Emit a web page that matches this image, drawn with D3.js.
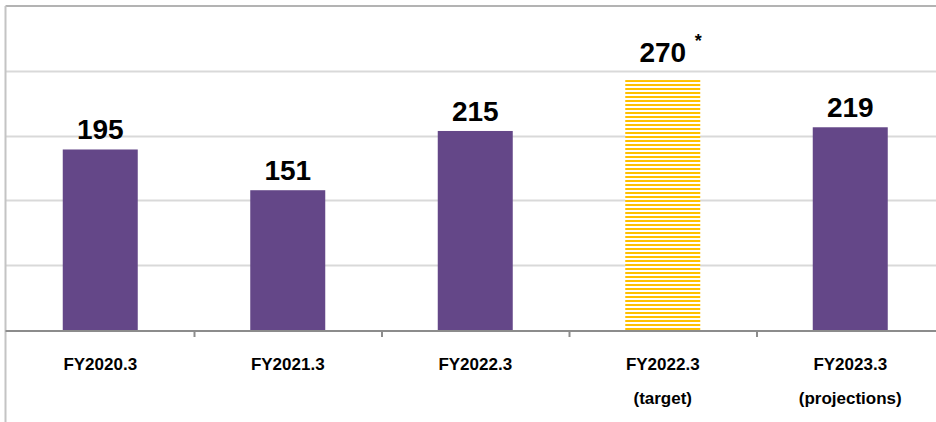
<!DOCTYPE html>
<html>
<head>
<meta charset="utf-8">
<script src="https://cdn.jsdelivr.net/npm/d3@7"></script>
<style>
  html, body { margin: 0; padding: 0; background: #ffffff; }
  svg { display: block; }
  text { font-family: "Liberation Sans", Arial, sans-serif; font-weight: bold; fill: #000; }
</style>
</head>
<body>
<svg id="chart" width="936" height="422"></svg>
<script>
// Fiscal-year categories (second line is optional)
const categories = ["FY2020.3", "FY2021.3", "FY2022.3", "FY2022.3", "FY2023.3"];
const subLabels  = ["", "", "", "(target)", "(projections)"];
// Values per category
const values     = [195, 151, 215, 270, 219];
// Which bars are targets (drawn with striped fill) and carry a note mark
const isTarget   = [false, false, false, true, false];
const notes      = ["", "", "", "*", ""];
// Horizontal gridline values
const gridTicks  = [70, 140, 210, 280];

const svg = d3.select("#chart");
const W = 936, H = 422;
const plot = { left: 5.5, top: 6, right: 944, bottom: 330 };

const x = d3.scaleBand()
  .domain(d3.range(categories.length))
  .range([plot.left + 1, plot.left + 1 + 187.5 * categories.length])
  .paddingInner(0)
  .paddingOuter(0);

const y = d3.scaleLinear().domain([0, 350]).range([plot.bottom, plot.top]);

// Striped fill for target bars
const defs = svg.append("defs");
const pat = defs.append("pattern")
  .attr("id", "stripes")
  .attr("patternUnits", "userSpaceOnUse")
  .attr("width", 4).attr("height", 4);
pat.append("rect").attr("width", 4).attr("height", 4).attr("fill", "#ffffff");
pat.append("rect").attr("width", 4).attr("height", 2).attr("fill", "#FFC000");

// Gridlines
svg.append("g")
  .selectAll("line")
  .data(gridTicks)
  .join("line")
  .attr("x1", plot.left).attr("x2", W)
  .attr("y1", d => Math.round(y(d)) + 0.5)
  .attr("y2", d => Math.round(y(d)) + 0.5)
  .attr("stroke", "#d9d9d9")
  .attr("stroke-width", 2);

// Outer frame (top and left edges)
svg.append("line")
  .attr("x1", plot.left).attr("x2", W)
  .attr("y1", plot.top).attr("y2", plot.top)
  .attr("stroke", "#b3b3b3").attr("stroke-width", 2);
svg.append("line")
  .attr("x1", plot.left).attr("x2", plot.left)
  .attr("y1", plot.top).attr("y2", H)
  .attr("stroke", "#c4c4c4").attr("stroke-width", 2);

// Bars
const barW = x.bandwidth() * 0.4;
svg.append("g")
  .selectAll("rect")
  .data(values)
  .join("rect")
  .attr("x", (d, i) => x(i) + (x.bandwidth() - barW) / 2)
  .attr("width", barW)
  .attr("y", d => y(d))
  .attr("height", d => y(0) - y(d))
  .attr("fill", (d, i) => isTarget[i] ? "url(#stripes)" : "#644788");

// Category axis
const xAxis = d3.axisBottom(x)
  .tickSize(0)
  .tickFormat("");
const gx = svg.append("g")
  .attr("transform", `translate(0,${plot.bottom + 1})`)
  .call(xAxis);
gx.select(".domain").remove();
gx.append("line")
  .attr("x1", plot.left).attr("x2", W)
  .attr("stroke", "#8c8c8c").attr("stroke-width", 2);
// Separator ticks between categories
gx.selectAll(".sep")
  .data(d3.range(1, categories.length))
  .join("line")
  .attr("class", "sep")
  .attr("x1", i => x(i) + 0.5).attr("x2", i => x(i) + 0.5)
  .attr("y1", 0).attr("y2", 6)
  .attr("stroke", "#8c8c8c").attr("stroke-width", 2);

// Category labels
const lbl = svg.append("g");
lbl.selectAll(".cat")
  .data(categories)
  .join("text")
  .attr("class", "cat")
  .attr("x", (d, i) => x(i) + x.bandwidth() / 2)
  .attr("y", 370)
  .attr("text-anchor", "middle")
  .attr("font-size", 17)
  .text(d => d);
lbl.selectAll(".sub")
  .data(subLabels)
  .join("text")
  .attr("class", "sub")
  .attr("x", (d, i) => x(i) + x.bandwidth() / 2)
  .attr("y", 404)
  .attr("text-anchor", "middle")
  .attr("font-size", 17)
  .text(d => d);

// Value labels
const vl = svg.append("g");
vl.selectAll(".val")
  .data(values)
  .join("text")
  .attr("class", "val")
  .attr("x", (d, i) => x(i) + x.bandwidth() / 2)
  .attr("y", (d, i) => y(d) - (isTarget[i] ? 18 : 10))
  .attr("text-anchor", "middle")
  .attr("font-size", 28)
  .text(d => d);
vl.selectAll(".note")
  .data(values)
  .join("text")
  .attr("class", "note")
  .attr("x", (d, i) => x(i) + x.bandwidth() / 2 + 32)
  .attr("y", (d, i) => y(d) - 33)
  .attr("text-anchor", "start")
  .attr("font-size", 18)
  .text((d, i) => notes[i]);
</script>
</body>
</html>
